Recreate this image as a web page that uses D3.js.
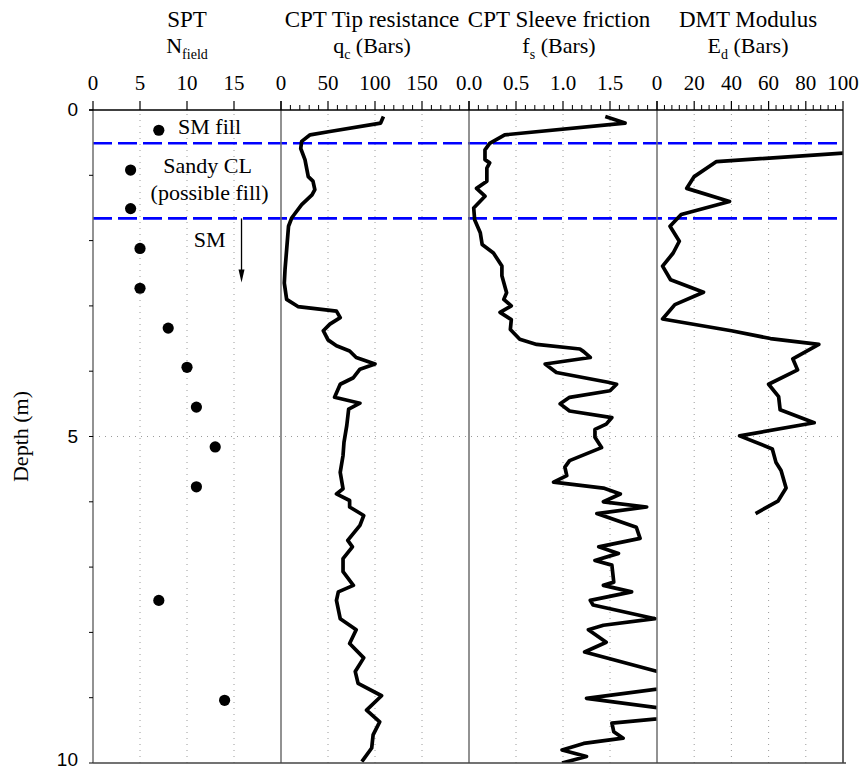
<!DOCTYPE html>
<html>
<head>
<meta charset="utf-8">
<script src="https://cdn.jsdelivr.net/npm/d3@7"></script>
<style>
  html, body { margin: 0; padding: 0; background: #fff; }
  svg { display: block; }
  .serif { font-family: "Liberation Serif", "Times New Roman", "DejaVu Serif", serif; }
  .sans { font-family: "Liberation Sans", Arial, "DejaVu Sans", sans-serif; }
</style>
</head>
<body>
<svg id="chart" width="863" height="771"></svg>
<script>
// ---- Site investigation profile: SPT, CPT and DMT versus depth ----

// SPT blow counts
const sptDepth = [0.31, 0.92, 1.51, 2.12, 2.73, 3.34, 3.94, 4.55, 5.16, 5.77, 7.51, 9.04];
const sptN     = [7, 4, 4, 5, 5, 8, 10, 11, 13, 11, 7, 14];

// CPT tip resistance qc (bars)
const qcDepth = [0.10, 0.20, 0.33, 0.38, 0.48, 0.59, 0.76, 1.02, 1.09, 1.22, 1.30, 1.45, 1.65, 1.78, 2.14, 2.44, 2.65, 2.90, 3.01, 3.08, 3.18, 3.28, 3.38, 3.52, 3.61, 3.69, 3.79, 3.89, 3.97, 4.10, 4.20, 4.40, 4.49, 4.58, 4.83, 5.09, 5.29, 5.55, 5.80, 5.88, 5.98, 6.08, 6.21, 6.36, 6.59, 6.69, 6.87, 7.07, 7.28, 7.38, 7.51, 7.79, 7.96, 8.17, 8.39, 8.60, 8.78, 8.97, 9.19, 9.37, 9.57, 9.77, 9.98];
const qcValue = [109, 106, 52, 31, 22, 21, 25.5, 29, 34, 36, 33, 22, 11.5, 8, 6, 4.3, 3.5, 6, 18, 59, 63, 52, 45, 50, 59, 73, 80, 100, 84, 77, 63, 57, 84, 72, 70, 67, 66, 63, 66, 59, 73, 73, 88, 84, 71, 76, 66, 66, 77, 61, 59, 63, 80, 73, 88, 79, 82, 107, 91, 105, 98, 96.5, 86];

// CPT sleeve friction fs (bars)
const fsDepth = [0.10, 0.20, 0.38, 0.51, 0.61, 0.76, 0.81, 0.89, 1.09, 1.20, 1.32, 1.50, 1.68, 1.88, 2.06, 2.19, 2.39, 2.54, 2.80, 2.90, 3.00, 3.10, 3.21, 3.36, 3.51, 3.59, 3.66, 3.70, 3.79, 3.89, 4.02, 4.17, 4.20, 4.30, 4.40, 4.50, 4.61, 4.71, 4.81, 4.89, 5.01, 5.17, 5.37, 5.47, 5.60, 5.70, 5.79, 5.88, 6.00, 6.08, 6.18, 6.39, 6.56, 6.69, 6.79, 6.90, 6.97, 7.23, 7.28, 7.38, 7.51, 7.58, 7.79, 7.89, 7.96, 8.15, 8.30, 8.78, 9.01, 9.25, 9.39, 9.52, 9.62, 9.70, 9.80, 9.90, 10.0];
const fsValue = [1.45, 1.66, 0.38, 0.22, 0.17, 0.17, 0.22, 0.19, 0.19, 0.08, 0.17, 0.05, 0.06, 0.12, 0.14, 0.26, 0.35, 0.35, 0.40, 0.37, 0.45, 0.33, 0.45, 0.44, 0.54, 0.72, 1.18, 1.22, 1.29, 0.81, 0.93, 1.48, 1.57, 1.50, 1.07, 0.97, 1.07, 1.52, 1.46, 1.34, 1.34, 1.41, 1.07, 1.02, 1.04, 0.90, 1.43, 1.61, 1.43, 1.89, 1.36, 1.78, 1.82, 1.38, 1.59, 1.34, 1.52, 1.54, 1.43, 1.73, 1.29, 1.32, 1.98, 1.43, 1.27, 1.46, 1.23, 2.47, 1.25, 2.52, 1.52, 1.54, 1.64, 1.22, 0.99, 1.25, 0.99];

// DMT modulus Ed (bars)
const edDepth = [0.66, 0.79, 1.02, 1.20, 1.40, 1.60, 1.78, 2.01, 2.19, 2.39, 2.60, 2.79, 2.98, 3.20, 3.38, 3.50, 3.59, 3.81, 3.98, 4.20, 4.39, 4.59, 4.79, 4.99, 5.19, 5.40, 5.52, 5.79, 5.99, 6.18];
const edValue = [101, 32, 20, 16, 39, 13, 7, 12, 8.7, 3, 7.3, 25, 9.6, 3, 40, 61, 87, 73, 75.6, 60, 65.4, 66.2, 84.5, 44.4, 62, 64, 66.7, 69.4, 65, 53];

// Soil layer boundaries and descriptions
const layerBoundaries = [0.51, 1.66];
const layerText  = ["SM fill", "Sandy CL", "(possible fill)", "SM"];
const layerDepth = [0.36, 0.97, 1.38, 2.10];
const layerN     = [12.4, 12.2, 12.4, 12.4];
const arrowN = 15.8, arrowFrom = 1.66, arrowTo = 2.64;

// Axis ticks
const depthTicks = [0, 1, 2, 3, 4, 5, 6, 7, 8, 9, 10];
const depthLabels = [0, 5, 10];
const sptTicks = [0, 5, 10, 15];
const qcTicks = [0, 50, 100, 150];
const fsTicks = [0, 0.5, 1.0, 1.5];
const edTicks = [0, 20, 40, 60, 80, 100];

// ---- layout ----
const svg = d3.select("#chart");
const yTop = 110, yBottom = 763;
const edges = [93, 281, 469, 657, 843];

const y = d3.scaleLinear().domain([0, 10]).range([yTop, yBottom]);

const panels = [
  { domain: [0, 20],  ticks: sptTicks, minor: null, grid: [5, 10, 15],        fmt: d3.format("d"), titleShift: 0,
    line1: [{ t: "SPT" }], line2: [{ t: "N" }, { t: "field", sub: true }] },
  { domain: [0, 200], ticks: qcTicks,  minor: 10,   grid: [50, 100, 150],     fmt: d3.format("d"), titleShift: -3,
    line1: [{ t: "CPT Tip resistance" }], line2: [{ t: "q" }, { t: "c", sub: true }, { t: " (Bars)" }] },
  { domain: [0, 2],   ticks: fsTicks,  minor: 0.1,  grid: [0.5, 1.0, 1.5],    fmt: d3.format(".1f"), titleShift: -4,
    line1: [{ t: "CPT Sleeve friction" }], line2: [{ t: "f" }, { t: "s", sub: true }, { t: " (Bars)" }] },
  { domain: [0, 100], ticks: edTicks,  minor: 4,    grid: [20, 40, 60, 80],   fmt: d3.format("d"), titleShift: -2,
    line1: [{ t: "DMT Modulus" }], line2: [{ t: "E" }, { t: "d", sub: true }, { t: " (Bars)" }] }
];
panels.forEach((p, i) => {
  p.x = d3.scaleLinear().domain(p.domain).range([edges[i], edges[i + 1]]);
});

const defs = svg.append("defs");
panels.forEach((p, i) => {
  defs.append("clipPath").attr("id", "clip" + i)
    .append("rect")
    .attr("x", edges[i]).attr("y", yTop)
    .attr("width", edges[i + 1] - edges[i]).attr("height", yBottom - yTop);
});

// ---- dotted grid ----
const grid = svg.append("g").attr("stroke", "#9a9a9a").attr("stroke-width", 1)
  .attr("stroke-dasharray", "1,5");
panels.forEach(p => {
  grid.selectAll(null).data(p.grid).join("line")
    .attr("x1", d => p.x(d)).attr("x2", d => p.x(d))
    .attr("y1", yTop + 4).attr("y2", yBottom);
});
grid.append("line")
  .attr("x1", edges[0]).attr("x2", edges[4])
  .attr("y1", y(5)).attr("y2", y(5));

// ---- layer boundaries ----
svg.append("g").selectAll("line").data(layerBoundaries).join("line")
  .attr("x1", edges[0]).attr("x2", edges[4])
  .attr("y1", d => y(d)).attr("y2", d => y(d))
  .attr("stroke", "#0000ff").attr("stroke-width", 2.6)
  .attr("stroke-dasharray", "19,6");

// ---- profiles ----
function profile(i, depths, values) {
  const p = panels[i];
  const pts = depths.map((d, k) => [values[k], d]);
  svg.append("path")
    .attr("clip-path", `url(#clip${i})`)
    .attr("d", d3.line().x(d => p.x(d[0])).y(d => y(d[1]))(pts))
    .attr("fill", "none").attr("stroke", "#000")
    .attr("stroke-width", 3.7).attr("stroke-linejoin", "round").attr("stroke-linecap", "butt");
}
profile(1, qcDepth, qcValue);
profile(2, fsDepth, fsValue);
profile(3, edDepth, edValue);

// SPT points
svg.append("g").selectAll("circle").data(sptN).join("circle")
  .attr("cx", d => panels[0].x(d))
  .attr("cy", (d, k) => y(sptDepth[k]))
  .attr("r", 5.6).attr("fill", "#000");

// layer descriptions
svg.append("g").selectAll("text").data(layerText).join("text")
  .attr("class", "serif")
  .attr("x", (d, k) => panels[0].x(layerN[k]))
  .attr("y", (d, k) => y(layerDepth[k]))
  .attr("text-anchor", "middle")
  .attr("font-size", 22)
  .text(d => d);

// downward arrow below the fill
const ax = panels[0].x(arrowN);
svg.append("line")
  .attr("x1", ax).attr("x2", ax)
  .attr("y1", y(arrowFrom)).attr("y2", y(arrowTo) - 8)
  .attr("stroke", "#000").attr("stroke-width", 1.3);
svg.append("path")
  .attr("d", `M${ax - 3},${y(arrowTo) - 13} L${ax + 3},${y(arrowTo) - 13} L${ax},${y(arrowTo)} Z`)
  .attr("fill", "#000");

// ---- frames ----
const frame = svg.append("g");
edges.forEach((e, i) => {
  frame.append("line")
    .attr("x1", e).attr("x2", e).attr("y1", yTop).attr("y2", yBottom)
    .attr("stroke", i === 4 ? "#333" : "#6e6e6e").attr("stroke-width", 1.5);
});
frame.append("line").attr("x1", edges[0] - 4).attr("x2", edges[4])
  .attr("y1", yTop).attr("y2", yTop).attr("stroke", "#000").attr("stroke-width", 1.5);
frame.append("line").attr("x1", edges[0]).attr("x2", edges[4] + 3)
  .attr("y1", yBottom).attr("y2", yBottom).attr("stroke", "#444").attr("stroke-width", 1.5);

// ---- top axes ----
panels.forEach((p, i) => {
  const g = svg.append("g");
  const majors = d3.range(p.domain[0], p.domain[1] + 1e-9, p.ticks[1] - p.ticks[0]);
  if (p.minor) {
    const minors = d3.range(p.domain[0], p.domain[1] + 1e-9, p.minor)
      .filter(v => !majors.some(m => Math.abs(m - v) < 1e-6));
    g.selectAll(".mn").data(minors).join("line")
      .attr("x1", d => p.x(d)).attr("x2", d => p.x(d))
      .attr("y1", yTop).attr("y2", yTop - 5)
      .attr("stroke", "#000").attr("stroke-width", 1);
  }
  g.selectAll(".mj").data(majors).join("line")
    .attr("x1", d => p.x(d)).attr("x2", d => p.x(d))
    .attr("y1", yTop).attr("y2", yTop - 9)
    .attr("stroke", "#000").attr("stroke-width", 1.2);
  g.selectAll("text").data(p.ticks).join("text")
    .attr("class", "serif")
    .attr("x", d => p.x(d)).attr("y", 90)
    .attr("text-anchor", "middle")
    .attr("font-size", 21)
    .text(d => p.fmt(d));

  // titles
  const cx = (edges[i] + edges[i + 1]) / 2 + p.titleShift;
  [[p.line1, 27, 23], [p.line2, 53, 22]].forEach(([parts, yy, fsz]) => {
    const t = svg.append("text").attr("class", "serif")
      .attr("x", cx).attr("y", yy)
      .attr("text-anchor", "middle")
      .attr("font-size", fsz);
    let shifted = false;
    parts.forEach(part => {
      const ts = t.append("tspan").text(part.t);
      if (part.sub) { ts.attr("font-size", 14).attr("dy", 6); shifted = true; }
      else if (shifted) { ts.attr("dy", -6); shifted = false; }
    });
  });
});

// ---- depth axis ----
const la = svg.append("g");
la.selectAll("line").data(depthTicks).join("line")
  .attr("x1", edges[0] - 4).attr("x2", edges[0])
  .attr("y1", d => y(d)).attr("y2", d => y(d))
  .attr("stroke", "#000").attr("stroke-width", 1);
la.selectAll("text").data(depthLabels).join("text")
  .attr("class", "sans")
  .attr("x", 78).attr("y", d => Math.min(y(d) + 6, 766))
  .attr("text-anchor", "end")
  .attr("font-size", 19)
  .text(d => d);
svg.append("text")
  .attr("class", "serif")
  .attr("transform", `translate(28,${y(5)}) rotate(-90)`)
  .attr("text-anchor", "middle")
  .attr("font-size", 22)
  .text("Depth (m)");
</script>
</body>
</html>
